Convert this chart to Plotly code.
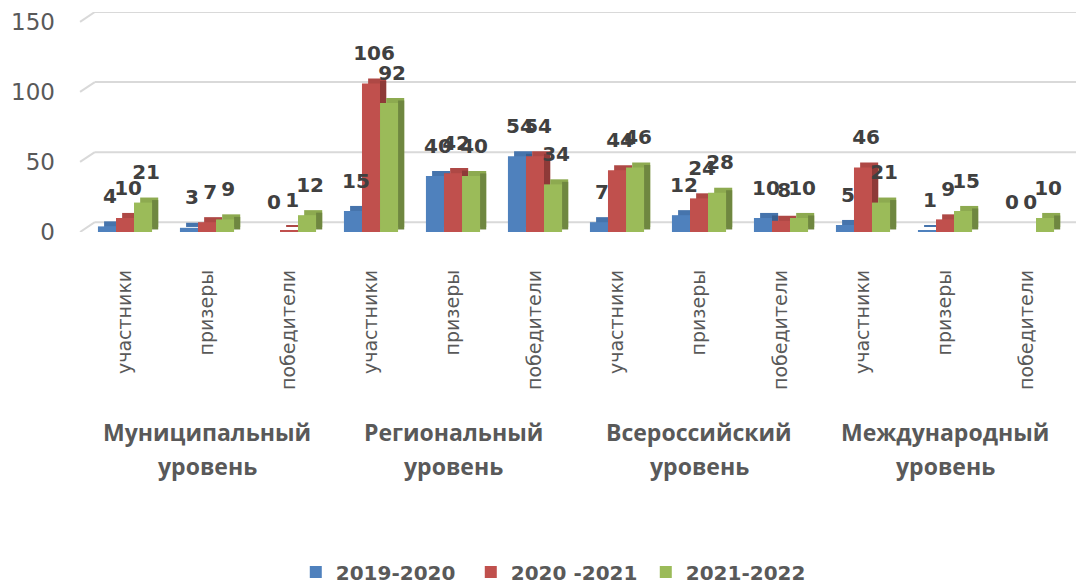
import plotly.graph_objects as go

# ---- data ----
subcats = ["участники", "призеры", "победители"] * 4
levels = ["Муниципальный", "Региональный", "Всероссийский", "Международный"]
level_word = "уровень"
series_names = ["2019-2020", "2020 -2021", "2021-2022"]
v2019 = [4, 3, 0, 15, 40, 54, 7, 12, 10, 5, 1, 0]
v2020 = [10, 7, 1, 106, 42, 54, 44, 24, 8, 46, 9, 0]
v2021 = [21, 9, 12, 92, 40, 34, 46, 28, 10, 21, 15, 10]
y_ticks = [0, 50, 100, 150]

# ---- style ----
colors = ["#4F81BD", "#C0504D", "#9BBB59"]
tops = ["#4674AC", "#AE4845", "#8DAA50"]
sides = ["#3A5F8E", "#8E3A38", "#6F8740"]
label_col = "#404040"
axis_col = "#595959"
grid_col = "#D9D9D9"
FONT = "Open Sans"
DV = "DejaVu Sans"

x = list(range(len(subcats)))
W = 0.22          # bar width (category units)
offsets = [-0.33, -0.11, 0.11]
DX = 0.075        # 3D depth, x
DY = 3.6          # 3D depth, y units
GDY = 7.0         # back-wall shift of gridlines
LBL = 11.0        # extra lift of data labels (y units)

series = [v2019, v2020, v2021]

fig = go.Figure()

# depth faces first: top face, then side face
for i, vals in enumerate(series):
    fig.add_trace(go.Bar(
        x=x, y=vals, base=DY, offset=offsets[i] + DX, width=W,
        marker=dict(color=tops[i], line=dict(width=0)),
        showlegend=False, hoverinfo="skip",
    ))
    fig.add_trace(go.Bar(
        x=x, y=vals, base=DY * 0.5, offset=offsets[i] + W, width=DX,
        marker=dict(color=sides[i], line=dict(width=0)),
        showlegend=False, hoverinfo="skip",
    ))

# front faces
for i, vals in enumerate(series):
    fig.add_trace(go.Bar(
        x=x, y=vals, offset=offsets[i], width=W, name=series_names[i],
        marker=dict(color=colors[i], line=dict(width=0)),
        cliponaxis=False,
    ))

# data labels (invisible carrier bars, lifted a bit like the 3D labels)
for i, vals in enumerate(series):
    fig.add_trace(go.Bar(
        x=x, y=vals, base=LBL, offset=offsets[i] + DX / 2, width=W,
        marker=dict(color="rgba(0,0,0,0)", line=dict(width=0)),
        text=[str(v) for v in vals], textposition="outside",
        textfont=dict(family=DV, size=20, color=label_col, weight="bold"),
        constraintext="none", cliponaxis=False,
        showlegend=False, hoverinfo="skip",
    ))

shapes = []
for v in y_ticks:
    shapes.append(dict(type="line", xref="paper", yref="y",
                       x0=-0.004, x1=0.011, y0=v, y1=v + GDY,
                       line=dict(color=grid_col, width=2), layer="below"))
    shapes.append(dict(type="line", xref="paper", yref="y",
                       x0=0.011, x1=1.012, y0=v + GDY, y1=v + GDY,
                       line=dict(color=grid_col, width=2), layer="below"))

annotations = []
for g, name in enumerate(levels):
    cx = g * 3 + 1
    annotations.append(dict(x=cx, xref="x", y=-0.909, yref="paper", text=name,
                            showarrow=False, yanchor="middle", xanchor="center",
                            font=dict(family=FONT, size=23, color=axis_col, weight="bold")))
    annotations.append(dict(x=cx, xref="x", y=-1.064, yref="paper", text=level_word,
                            showarrow=False, yanchor="middle", xanchor="center",
                            font=dict(family=FONT, size=23, color=axis_col, weight="bold")))

fig.update_layout(
    width=1076, height=576,
    margin=dict(l=76, r=16, t=4, b=352, autoexpand=False),
    paper_bgcolor="white", plot_bgcolor="white",
    barmode="overlay",
    shapes=shapes, annotations=annotations,
    legend=dict(orientation="h", x=0.482, xanchor="center", y=-1.545, yanchor="middle",
                font=dict(family=DV, size=20, color=axis_col, weight="bold"),
                entrywidth=130, entrywidthmode="pixels",
                traceorder="normal"),
    xaxis=dict(range=[-0.5, 11.5], tickmode="array", tickvals=x, ticktext=subcats,
               tickangle=-90, showgrid=False, zeroline=False, showline=False, ticks="",
               ticklabelstandoff=33,
               tickfont=dict(family=DV, size=19, color=axis_col)),
    yaxis=dict(range=[0, 157], tickmode="array", tickvals=y_ticks,
               showgrid=False, zeroline=False, showline=False, ticks="",
               ticklabelstandoff=28,
               tickfont=dict(family=DV, size=23, color=axis_col)),
)

fig.write_html("out.html")
